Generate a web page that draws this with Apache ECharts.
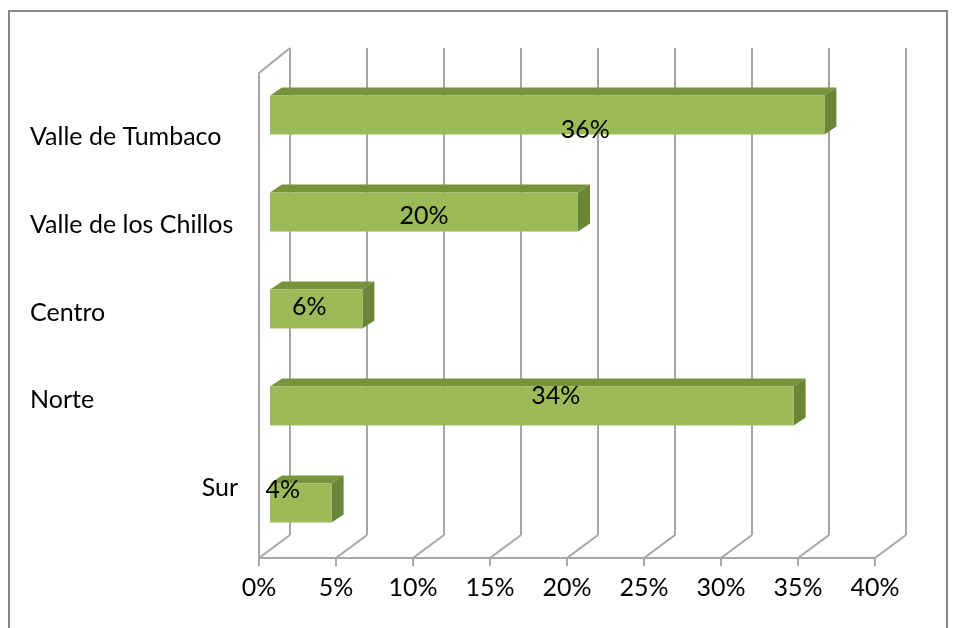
<!DOCTYPE html>
<html>
<head>
<meta charset="utf-8">
<script src="https://cdn.jsdelivr.net/npm/echarts@6/dist/echarts.min.js"></script>
<style>
  html, body { margin: 0; padding: 0; background: #ffffff; }
  #chart { width: 955px; height: 628px; }
</style>
</head>
<body>
<div id="chart"></div>
<script>
// Zones, listed bottom to top as they appear on the category axis
const categories = ['Sur', 'Norte', 'Centro', 'Valle de los Chillos', 'Valle de Tumbaco'];
// Share of each zone (fraction of 1)
const shares = [0.04, 0.34, 0.06, 0.20, 0.36];
// Percent axis ticks
const tickValues = [0, 0.05, 0.10, 0.15, 0.20, 0.25, 0.30, 0.35, 0.40];

// Label placement tweaks per zone (pixels, relative to the bar front centre)
const labelNudge = {
  'Valle de Tumbaco': [38, 15],
  'Valle de los Chillos': [0, 4],
  'Centro': [-7, -2],
  'Norte': [24, -10],
  'Sur': [-18, -13]
};
const rightAlignedLabels = ['Sur'];

const FONT = 'Lato';
const FONT_SIZE = 25;
const GRID_COLOR = '#a6a6a6';
const WALL = { dx: 31, dy: -23 };       // depth of the floor / walls
const BAR_FRONT = { dx: 11, dy: -6.5 }; // where the bar's front face sits in depth
const BAR_DEPTH = { dx: 12, dy: -8 };   // thickness of the bar in depth

const pct = v => Math.round(v * 100) + '%';

const chart = echarts.init(document.getElementById('chart'), null, { renderer: 'canvas' });

function renderFrame(params, api) {
  const cs = params.coordSys;
  const v = api.value(0);
  const x = api.coord([v, 0])[0];
  const bottom = cs.y + cs.height;
  const lineStyle = { stroke: GRID_COLOR, lineWidth: 2 };
  const children = [{
    type: 'line',
    shape: { x1: x, y1: bottom, x2: x + WALL.dx, y2: bottom + WALL.dy },
    style: lineStyle
  }];
  if (params.dataIndex === 0) {
    children.push({
      type: 'line',
      shape: { x1: cs.x, y1: cs.y, x2: cs.x + WALL.dx, y2: cs.y - 25 },
      style: lineStyle
    });
  }
  return { type: 'group', children };
}

function renderBar(params, api) {
  const value = api.value(0);
  const catIdx = api.value(1);
  const start = api.coord([0, catIdx]);
  const end = api.coord([value, catIdx]);
  const band = api.size([0, 1])[1];
  const h = band * 0.4;
  const x0 = start[0] + BAR_FRONT.dx;
  const x1 = end[0] + BAR_FRONT.dx;
  const yc = start[1] + BAR_FRONT.dy;
  const top = yc - h / 2;
  const bot = yc + h / 2;
  const dx = BAR_DEPTH.dx, dy = BAR_DEPTH.dy;
  const name = categories[catIdx];
  const nudge = labelNudge[name] || [0, 0];
  return {
    type: 'group',
    children: [
      { // top face
        type: 'polygon',
        shape: { points: [[x0, top], [x0 + dx, top + dy], [x1 + dx, top + dy], [x1, top]] },
        style: { fill: '#77933c' }
      },
      { // side face
        type: 'polygon',
        shape: { points: [[x1, top], [x1 + dx, top + dy], [x1 + dx, bot + dy], [x1, bot]] },
        style: { fill: '#6a8535' }
      },
      { // front face
        type: 'rect',
        shape: { x: x0, y: top, width: x1 - x0, height: h },
        style: { fill: '#9bbb59' }
      },
      {
        type: 'text',
        style: {
          x: (x0 + x1) / 2 + nudge[0],
          y: yc + nudge[1],
          text: pct(value),
          fill: '#000000',
          font: FONT_SIZE + 'px ' + FONT,
          align: 'center',
          verticalAlign: 'middle'
        }
      }
    ]
  };
}

const option = {
  backgroundColor: '#ffffff',
  animation: false,
  textStyle: { fontFamily: FONT },
  graphic: [{
    type: 'rect',
    shape: { x: 9, y: 11, width: 938, height: 640 },
    style: { fill: 'none', stroke: '#878787', lineWidth: 2 },
    silent: true,
    z: -10
  }],
  grid: [
    { left: 259, top: 73, width: 616, height: 485 },  // front plane
    { left: 290, top: 48, width: 616, height: 487 },  // back wall
    { left: 238, top: 93, width: 600, height: 439 }   // zone names
  ],
  xAxis: [
    {
      gridIndex: 0, type: 'value', min: 0, max: 0.4, interval: 0.05,
      axisLine: { show: true, lineStyle: { color: GRID_COLOR, width: 2 } },
      axisTick: { show: true, length: 8, lineStyle: { color: GRID_COLOR, width: 2 } },
      axisLabel: { formatter: pct, color: '#000', fontSize: FONT_SIZE, fontFamily: FONT, margin: 17 },
      splitLine: { show: false }
    },
    {
      gridIndex: 1, type: 'value', min: 0, max: 0.4, interval: 0.05,
      axisLine: { show: false }, axisTick: { show: false }, axisLabel: { show: false },
      splitLine: { show: true, lineStyle: { color: GRID_COLOR, width: 2 } }
    },
    { gridIndex: 2, type: 'value', show: false }
  ],
  yAxis: [
    {
      gridIndex: 0, type: 'category', data: categories,
      axisLine: { show: true, lineStyle: { color: GRID_COLOR, width: 2 } },
      axisTick: { show: false }, axisLabel: { show: false }, splitLine: { show: false }
    },
    { gridIndex: 1, type: 'value', show: false },
    {
      gridIndex: 2, type: 'category', data: categories,
      axisLine: { show: false }, axisTick: { show: false }, splitLine: { show: false },
      axisLabel: {
        margin: 0,
        color: '#000',
        fontSize: FONT_SIZE,
        fontFamily: FONT,
        formatter: v => rightAlignedLabels.includes(v) ? '{r|' + v + '}' : '{l|' + v + '}',
        rich: {
          l: { width: 208, align: 'left', fontSize: FONT_SIZE, fontFamily: FONT, color: '#000' },
          r: { width: 208, align: 'right', fontSize: FONT_SIZE, fontFamily: FONT, color: '#000' }
        }
      }
    }
  ],
  series: [
    {
      type: 'custom',
      xAxisIndex: 0, yAxisIndex: 0,
      renderItem: renderFrame,
      encode: { x: 0, y: 1 },
      data: tickValues.map(v => [v, 0]),
      silent: true,
      z: 1
    },
    {
      type: 'custom',
      xAxisIndex: 0, yAxisIndex: 0,
      renderItem: renderBar,
      encode: { x: 0, y: 1 },
      data: shares.map((v, i) => [v, i]),
      z: 5
    }
  ]
};

chart.setOption(option);
</script>
</body>
</html>
